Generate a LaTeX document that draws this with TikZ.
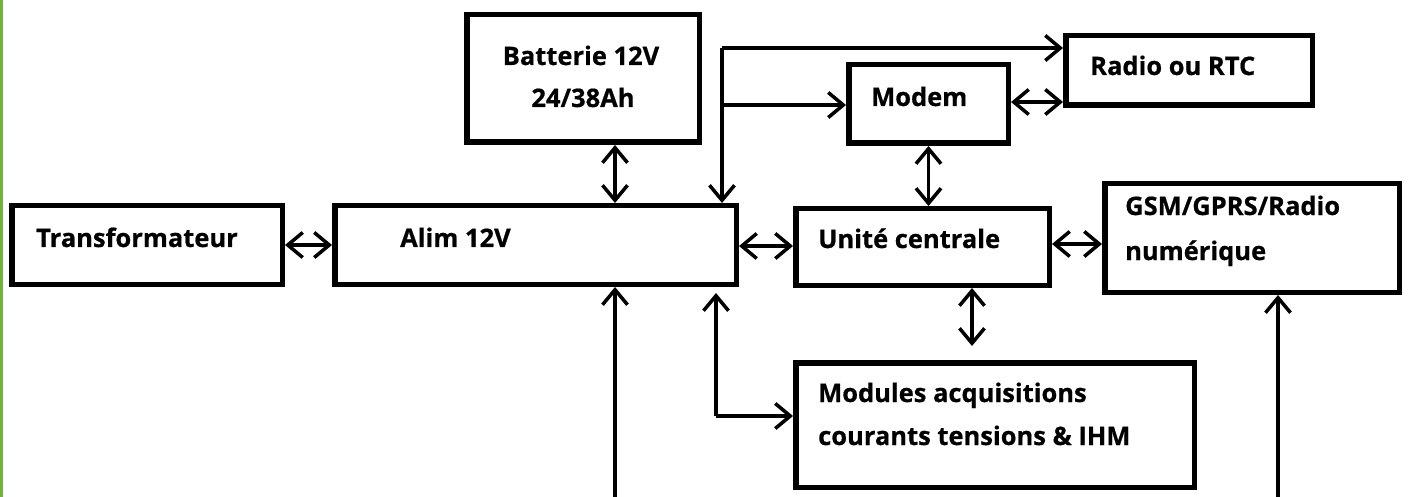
\documentclass[tikz,border=0pt]{standalone}
\usepackage{fontspec}
\setmainfont{Open Sans}[BoldFeatures={FakeBold=0.6}]
\usepackage{tikz}
\usetikzlibrary{arrows.meta, positioning, calc}

\definecolor{edgegreen}{RGB}{112,180,62}

\begin{document}
\begin{tikzpicture}[
    x=1pt, y=-1pt,
    blk/.style={rectangle, draw=black, line width=5.5pt, inner sep=0pt},
    lbl/.style={inner sep=0pt, font=\fontsize{25.5}{30}\selectfont\bfseries},
    arr/.style={-{Straight Barb[length=15pt,width=25pt]}, line width=3.5pt},
    darr/.style={{Straight Barb[length=15pt,width=25pt]}-{Straight Barb[length=15pt,width=25pt]}, line width=3.5pt}
]
\useasboundingbox (0,0) rectangle (1408,497);
\fill[edgegreen] (0,0) rectangle (3,497);

% blocs
\node[blk, minimum width=270.5pt, minimum height=78.5pt] (trans) at (147,245) {};
\node[blk, minimum width=232.5pt, minimum height=127.5pt] (batt) at (583,78.5) {};
\node[blk, minimum width=401.5pt, minimum height=78.5pt] (alim) at (535.5,245) {};
\node[blk, minimum width=159.5pt, minimum height=78.5pt] (modem) at (928.5,104) {};
\node[blk, minimum width=246.5pt, minimum height=69.5pt] (radio) at (1189,70.5) {};
\node[blk, minimum width=253.5pt, minimum height=76.5pt] (uc) at (922.5,247) {};
\node[blk, minimum width=294.5pt, minimum height=108.5pt] (gsm) at (1252,238) {};
\node[blk, minimum width=398.5pt, minimum height=124.5pt] (mods) at (995,425) {};

% textes
\node[lbl, anchor=base west] (trans-t) at (36,247) {Transformateur};
\node[lbl, anchor=base] (batt-t1) at (581,65) {Batterie 12V};
\node[lbl, anchor=base] (batt-t2) at (583,107) {24/38Ah};
\node[lbl, anchor=base west] (alim-t) at (400,247) {Alim 12V};
\node[lbl, anchor=base west] (modem-t) at (871,106) {Modem};
\node[lbl, anchor=base west] (radio-t) at (1090,75) {Radio ou RTC};
\node[lbl, anchor=base west] (uc-t) at (818,248) {Unité centrale};
\node[lbl, anchor=base west] (gsm-t1) at (1125,215) {GSM/GPRS/Radio};
\node[lbl, anchor=base west] (gsm-t2) at (1125,260) {numérique};
\node[lbl, anchor=base west] (mods-t1) at (818,402) {Modules acquisitions};
\node[lbl, anchor=base west] (mods-t2) at (818,445) {courants tensions \& IHM};

% points de passage
\coordinate (tap) at (722,48);
\coordinate (tapm) at (722,105);
\coordinate (cornm) at (716,416);
\coordinate (inA) at (615,497);
\coordinate (inG) at (1278,497);

% liaisons
\draw[darr] (trans.east) -- (alim.west);
\draw[darr] ([xshift=32pt]batt.south) -- ([xshift=32pt]batt.south |- alim.north);
\draw[darr] ([yshift=-1pt]alim.east) -- ([yshift=-1pt]alim.east -| uc.west);
\draw[darr] (modem.south) -- (modem.south |- uc.north);
\draw[darr] ([yshift=2pt]modem.east) -- ([yshift=2pt]modem.east -| radio.west);
\draw[darr] ([yshift=3pt]uc.east) -- ([yshift=3pt]uc.east -| gsm.west);
\draw[darr, shorten >=14pt] ([xshift=49.5pt]uc.south) -- ([xshift=49.5pt]uc.south |- mods.north);
\draw[arr] (tap) -- (tap -| radio.west);
\draw[arr] (tap) -- (tap |- alim.north);
\draw[arr] (tapm) -- (tapm -| modem.west);
\draw[arr] (cornm) -- (cornm -| mods.west);
\draw[arr, shorten >=6pt] (cornm) -- (cornm |- alim.south);
\draw[arr] (inA) -- (inA |- alim.south);
\draw[arr] (inG) -- (inG |- gsm.south);

\end{tikzpicture}
\end{document}
